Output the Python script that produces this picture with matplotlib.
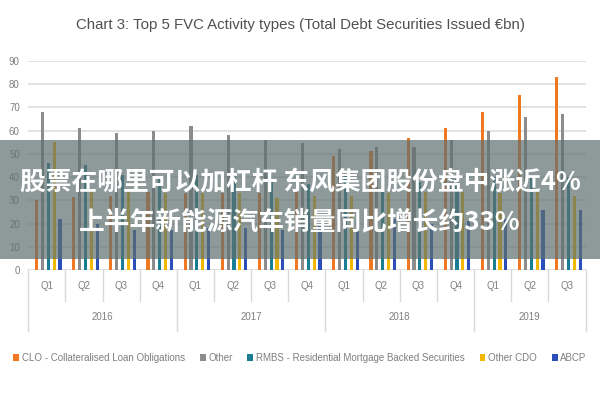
import numpy as np
import matplotlib.pyplot as plt
from matplotlib.patches import Rectangle
import matplotlib.transforms as mtransforms

# quarters and years on the category axis
quarters = ['Q1', 'Q2', 'Q3', 'Q4'] * 3 + ['Q1', 'Q2', 'Q3']
years = ['2016', '2017', '2018', '2019']
quarters_per_year = [4, 4, 4, 3]

# values (EUR bn)
clo = [30, 31.5, 32, 33.5, 33, 33, 33, 34, 49, 51, 57, 61, 68, 75.5, 83]
other = [68, 61, 59, 60, 62, 58, 56, 54.5, 52, 53, 53, 56, 60, 66, 67]
rmbs = [46, 45, 41, 40, 41, 40, 38, 37, 41, 41, 38, 39, 40, 40, 40]
other_cdo = [55, 35, 34, 33, 33, 33, 31, 32, 32, 33, 33.5, 33.5, 33, 33.5, 32]
abcp = [22, 20, 17, 17, 18, 18, 17, 19, 21, 22, 20, 21, 22, 26, 26]

series_names = ['CLO - Collateralised Loan Obligations', 'Other',
                'RMBS - Residential Mortgage Backed Securities', 'Other CDO', 'ABCP']
colors = ['#F07820', '#8C8C8C', '#197D93', '#F5B800', '#2B4FB8']

title = 'Chart 3: Top 5 FVC Activity types (Total Debt Securities Issued €bn)'
banner_line1 = '股票在哪里可以加杠杆 东风集团股份盘中涨近4%'
banner_line2 = '上半年新能源汽车销量同比增长约33%'

narrow = ['Liberation Sans', 'DejaVu Sans']
txt_grey = '#7F7F7F'

fig = plt.figure(figsize=(6, 4), dpi=100)
ax = fig.add_axes([0.047, 0.325, 0.929, 0.523])

x = np.arange(len(quarters))
pitch = 0.157
width = 0.085
for i, (vals, c) in enumerate(zip([clo, other, rmbs, other_cdo, abcp], colors)):
    ax.bar(x + (i - 2) * pitch + 0.04, vals, width=width, color=c,
           label=series_names[i], zorder=3)

ax.set_xlim(-0.5, len(quarters) - 0.5)
ax.set_ylim(0, 90)
ax.set_yticks(np.arange(0, 91, 10))
ax.yaxis.grid(True, color='#DDDDDD', linewidth=1.2, zorder=0)
ax.tick_params(axis='y', length=0, labelsize=7, labelcolor=txt_grey, pad=6)
ax.tick_params(axis='x', length=0, labelsize=7, labelcolor=txt_grey, pad=8)
for lab in ax.get_yticklabels():
    lab.set_family(narrow)
ax.set_xticks(x)
ax.set_xticklabels(quarters, family=narrow)
for s in ax.spines.values():
    s.set_visible(False)
ax.axhline(0, color='#DDDDDD', linewidth=1, zorder=2)

# two-level category axis: quarter separators and year separators
trans = mtransforms.blended_transform_factory(ax.transData, ax.transAxes)
year_edges = np.concatenate([[0], np.cumsum(quarters_per_year)]) - 0.5
for b in np.arange(len(quarters) + 1) - 0.5:
    long_line = np.any(np.isclose(year_edges, b))
    ax.plot([b, b], [0, -0.29 if long_line else -0.15], transform=trans,
            color='#D9D9D9', linewidth=1, clip_on=False)
for k, yr in enumerate(years):
    mid = (year_edges[k] + year_edges[k + 1]) / 2
    ax.text(mid, -0.226, yr, transform=trans, ha='center', va='center',
            fontsize=7, color=txt_grey, family=narrow)

fig.text(0.5, 1 - 25 / 400, title, ha='center', va='center', fontsize=10.8,
         color='#505050', family=narrow)

fig.legend(loc='center', bbox_to_anchor=(0.5, 1 - 358 / 400), ncol=5,
           frameon=False, handlelength=0.6, handleheight=0.6,
           handletextpad=0.3, columnspacing=1.5, labelcolor=txt_grey,
           prop={'family': narrow, 'size': 7})

# translucent banner with overlaid headline
fig.patches.append(Rectangle((0, 1 - 259 / 400), 1, 119 / 400,
                             transform=fig.transFigure, color='#5F6F6F',
                             alpha=0.7, zorder=10, linewidth=0))
cjk = ['Noto Sans CJK SC', 'DejaVu Sans']
fig.text(0.5, 1 - 182 / 400, banner_line1, ha='center', va='center',
         fontsize=18.5, color='white', weight='bold', family=cjk, zorder=11)
fig.text(0.5, 1 - 222 / 400, banner_line2, ha='center', va='center',
         fontsize=18.5, color='white', weight='bold', family=cjk, zorder=11)

fig.savefig('out.png', dpi=100)
